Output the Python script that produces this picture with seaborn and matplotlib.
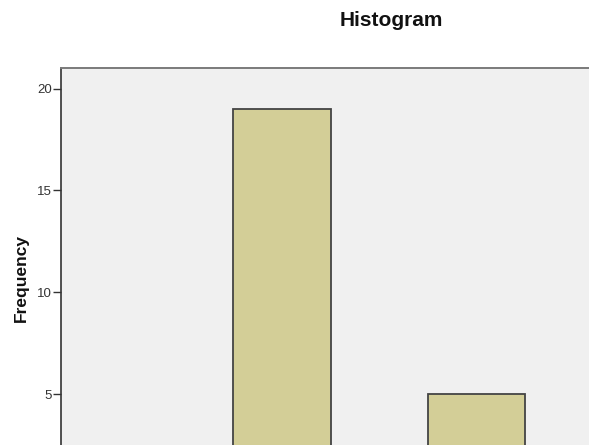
import matplotlib
matplotlib.use("Agg")
import matplotlib.pyplot as plt
import seaborn as sns

# Histogram data (bin edges and counts)
bin_edges = [1, 2, 3, 4]
bin_mids = [1.5, 2.5, 3.5]
bin_counts = [19, 0, 5]
y_ticks = [5, 10, 15, 20]

sns.set_style("white", {"axes.facecolor": "#F0F0F0"})
plt.rcParams["font.family"] = ["Liberation Sans", "DejaVu Sans"]

fig = plt.figure(figsize=(5.89, 4.45), dpi=100)
# the plot frame runs past the right and bottom edges of the picture
ax = fig.add_axes([61 / 589, -0.1142, 0.9533, 0.9607])

sns.histplot(x=bin_mids, weights=bin_counts, bins=bin_edges, ax=ax,
             color="#D3CE97", edgecolor="#444444", linewidth=1.3, alpha=1)

ax.set_xlim(-0.771, 5.0)
ax.set_ylim(0, 21.0)
ax.set_yticks(y_ticks)
ax.set_xticks([])
ax.set_xlabel("")
ax.set_ylabel("")
ax.tick_params(axis="y", direction="out", length=5.8, width=1.0, pad=0.8,
               labelsize=9.5, color="#333333", labelcolor="#333333", left=True)

for side in ["right", "bottom"]:
    ax.spines[side].set_visible(False)
ax.spines["top"].set_color("#7A7A7A")
ax.spines["top"].set_linewidth(1.4)
ax.spines["left"].set_color("#333333")
ax.spines["left"].set_linewidth(1.2)

fig.text(391.5 / 589, 1 - 26.5 / 445, "Histogram", ha="center", va="baseline",
         fontsize=15, fontweight="bold", color="#111111")
fig.text(21.5 / 589, 1 - 278 / 445, "Frequency", rotation=90, ha="center",
         va="center", fontsize=12.5, fontweight="bold", color="#111111")

fig.savefig("out.png", dpi=100)
